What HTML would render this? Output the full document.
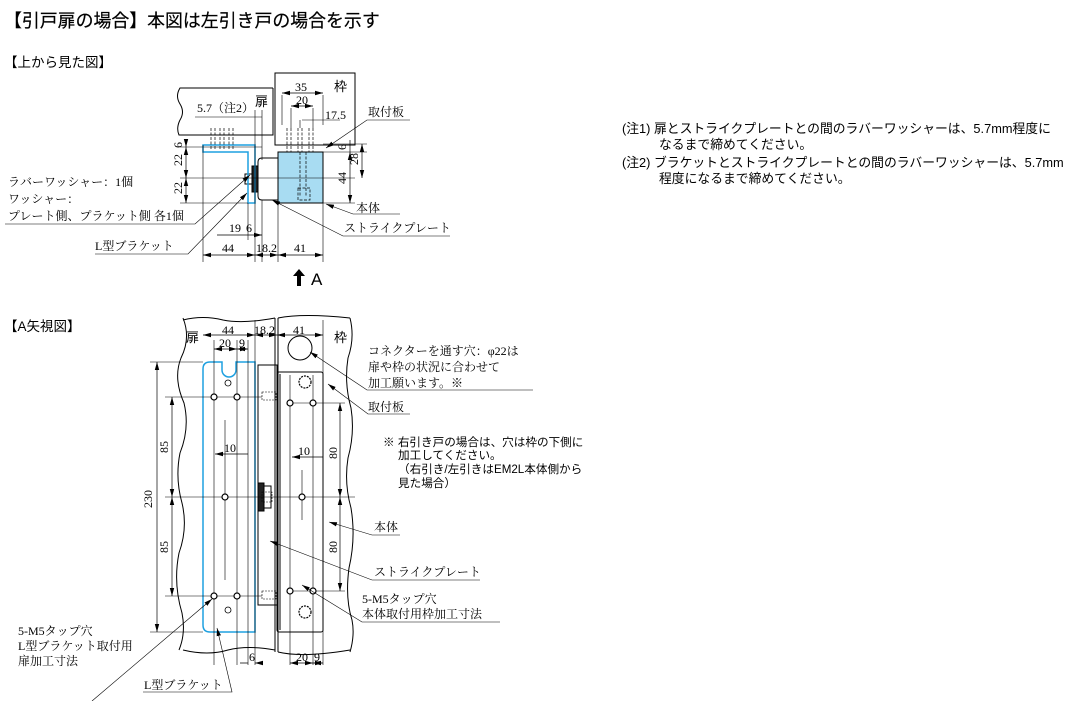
<!DOCTYPE html>
<html><head><meta charset="utf-8"><style>
html,body{margin:0;padding:0;background:#fff;width:1066px;height:701px;overflow:hidden}
svg{display:block}
.g{font-family:"Liberation Sans","Noto Sans CJK JP",sans-serif}
.s{font-family:"Liberation Serif","Noto Serif CJK SC",serif;font-size:12px}
</style></head><body>
<svg width="1066" height="701" viewBox="0 0 1066 701" xmlns="http://www.w3.org/2000/svg">
<defs>
<marker id="a" markerWidth="8" markerHeight="6" refX="8" refY="3" orient="auto-start-reverse" markerUnits="userSpaceOnUse"><path d="M0,0.8 L8,3 L0,5.2z" fill="#000"/></marker>
</defs>
<text x="4" y="27" class="g" font-size="17.9" fill="#000" stroke="#000" stroke-width="0.2">【引戸扉の場合】本図は左引き戸の場合を示す</text>
<text x="4" y="67" class="g" font-size="13.5">【上から見た図】</text>
<text x="4" y="331" class="g" font-size="13.5">【A矢視図】</text>
<g class="g" font-size="12.8" fill="#000">
<text x="622" y="133">(注1) 扉とストライクプレートとの間のラバーワッシャーは、5.7mm程度に</text>
<text x="659" y="149">なるまで締めてください。</text>
<text x="622" y="167">(注2) ブラケットとストライクプレートとの間のラバーワッシャーは、5.7mm</text>
<text x="659" y="183">程度になるまで締めてください。</text>
</g>

<!-- TOP VIEW -->
<g stroke="#000" fill="none" stroke-width="1">
<path d="M273,88 H180 q-5,8 0,16 q5,8 0,16 q-4,8 -1,15 H273 V88"/>
<rect x="275" y="73" width="80" height="72"/>
<path d="M262,158 q-4,0 -4,4 v34 q0,4 4,4 h16 v-42z" fill="#fff"/>
<rect x="252" y="166" width="6" height="26" fill="#222"/>
<rect x="245" y="174" width="7" height="10"/>
</g>
<rect x="278" y="152" width="45" height="51" fill="#a8dcf2" stroke="#000"/>
<path d="M203,145 H255 V203 H248 V152 H203z" fill="none" stroke="#1ea0e0" stroke-width="1.5"/>
<g stroke="#000" stroke-width="0.7" stroke-dasharray="3,1.5" fill="none">
<path d="M211,128 v22 M215,128 v22 M220,128 v22 M224,128 v22 M229,128 v22 M233,128 v22"/>
<path d="M287,128 v24 M291,128 v24 M298,128 v24 M302,128 v24 M309,128 v24 M313,128 v24"/>
<path d="M300,152 v45 M306,152 v45 M298,188 h12 v12 h-12z"/>
</g>
<g stroke="#000" stroke-width="0.6" fill="none">
<path d="M180,147 H262 M180,178 H355 M180,203 H248 M323,152 H367 M323,203 H355 M323,144 H367"/>
<path d="M203,145 V262 M255,145 V262 M262,200 V262 M278,203 V262 M323,203 V262 M248,203 V240"/>
<path d="M282,95 V125 M323,95 V125 M291,108 V128 M313,108 V128 M300,120 V128"/>
<path d="M195,117 H262 M255,110 V145 M262,110 V160"/>
<path d="M302,120 H340"/>
</g>
<g stroke="#000" stroke-width="0.7" fill="none" marker-start="url(#a)" marker-end="url(#a)">
<path d="M282,93 H323"/><path d="M291,106 H313"/>
<path d="M186,147 V178"/><path d="M186,178 V203"/>
<path d="M350,152 V203"/><path d="M362,144 V178"/>
<path d="M203,255 H255"/><path d="M255,255 H278"/><path d="M278,255 H323"/>
</g>
<path d="M217,235 H248 M248,235 H262" stroke="#000" stroke-width="0.7" marker-end="url(#a)"/>
<path d="M350,140 V152 M186,140 V147" stroke="#000" stroke-width="0.7" marker-end="url(#a)"/>
<g stroke="#000" stroke-width="0.6" fill="none">
<path d="M5,224 H195 L250,175" marker-end="url(#a)"/>
<path d="M95,254 H188 L247,193" marker-end="url(#a)"/>
<path d="M410,120 H367 L326,148" marker-end="url(#a)"/>
<path d="M400,214 H353 L326,204" marker-end="url(#a)"/>
<path d="M450,236 H343 L272,200" marker-end="url(#a)"/>
</g>
<g class="s" fill="#000">
<text x="197" y="112">5.7（注2）</text>
<text x="255" y="106" class="g" font-size="13">扉</text>
<text x="334" y="91" class="g" font-size="13">枠</text>
<text x="295" y="91">35</text><text x="296" y="104">20</text><text x="325" y="119">17.5</text>
<text x="182" y="166" transform="rotate(-90 182 166)">22</text>
<text x="182" y="194" transform="rotate(-90 182 194)">22</text>
<text x="182" y="148" transform="rotate(-90 182 148)">6</text>
<text x="346" y="184" transform="rotate(-90 346 184)">44</text>
<text x="358" y="165" transform="rotate(-90 358 165)">28</text>
<text x="346" y="150" transform="rotate(-90 346 150)">6</text>
<text x="229" y="232">19</text><text x="246" y="232">6</text>
<text x="222" y="252">44</text><text x="256" y="252">18.2</text><text x="294" y="252">41</text>
<text x="8" y="186">ラバーワッシャー：1個</text>
<text x="8" y="203">ワッシャー：</text>
<text x="8" y="220">プレート側、プラケット側 各1個</text>
<text x="95" y="250">L型ブラケット</text>
<text x="368" y="116">取付板</text>
<text x="356" y="212">本体</text>
<text x="344" y="232">ストライクプレート</text>
</g>
<path d="M297,286 V276 h-4 l6,-7 l6,7 h-4 v10z" fill="#000"/>
<text x="311" y="285" class="g" font-size="17">A</text>

<!-- A VIEW -->
<g stroke="#000" fill="none" stroke-width="1">
<path d="M183,318 q8,20 -2,40 q-8,20 3,45 q6,25 -4,50 q-5,25 2,50 q6,25 -3,50 q-6,30 3,60 q4,20 -3,37"/>
<path d="M275,318 V652 M278,318 V652"/>
<path d="M350,318 q5,20 -2,40 q-4,25 3,50 q4,25 -3,50 q-4,25 3,50 q5,30 -2,60 q-4,30 3,52 q3,15 -2,32"/>
<path d="M183,320 q20,-5 40,0 q20,4 52,-2 M278,318 q25,-5 72,0"/>
<path d="M183,650 q25,6 45,0 q20,-5 47,0 M278,652 q25,6 72,-2"/>
<rect x="258" y="365" width="19" height="240"/>
<rect x="277" y="372" width="46" height="260" rx="2"/>
<path d="M280,374 V630"/>
<circle cx="300" cy="348" r="12" fill="#fff"/>
<rect x="258" y="483" width="6" height="28" fill="#222"/>
<path d="M264,486 h7 v22 h-7z"/>
</g>
<path d="M210,362 H222 v8 a7,7 0 0 0 14,0 v-8 H255 V632 H210 q-7,0 -7,-7 V369 q0,-7 7,-7z" fill="none" stroke="#1ea0e0" stroke-width="1.5"/>
<g stroke="#000" stroke-width="0.6" fill="none">
<path d="M150,362 H203 M150,632 H203 M165,397 H262 M165,596 H262 M165,497 H355 M290,403 H345 M290,591 H345"/>
<path d="M214,340 V665 M237,340 V665 M225,420 V580 M255,320 V665 M248,340 V665 M290,375 V665 M313,375 V665 M323,320 V665"/>
<path d="M302,470 V520"/>
<path d="M262,392 h14 v8 h-14z M262,591 h14 v8 h-14z M262,492 h10 v10 h-10z" stroke-dasharray="2,1"/>
</g>
<g fill="#fff" stroke="#000" stroke-width="1.2">
<circle cx="214" cy="397" r="3"/><circle cx="237" cy="397" r="3"/>
<circle cx="214" cy="596" r="3"/><circle cx="237" cy="596" r="3"/>
<circle cx="225" cy="497" r="3"/>
<circle cx="290" cy="403" r="3"/><circle cx="313" cy="403" r="3"/>
<circle cx="290" cy="591" r="3"/><circle cx="313" cy="591" r="3"/>
<circle cx="302" cy="497" r="3"/>
<circle cx="228" cy="383" r="3" stroke-width="0.8"/><circle cx="228" cy="610" r="3" stroke-width="0.8"/>
<circle cx="305" cy="382" r="6" stroke-dasharray="2,1"/><circle cx="305" cy="612" r="6" stroke-dasharray="2,1"/>
</g>
<g stroke="#000" stroke-width="0.7" fill="none" marker-start="url(#a)" marker-end="url(#a)">
<path d="M157,362 V632"/><path d="M172,397 V497"/><path d="M172,497 V596"/>
<path d="M340,403 V497"/><path d="M340,497 V591"/>
<path d="M203,335 H255"/><path d="M255,335 H277"/><path d="M277,335 H323"/>
<path d="M214,349 H237"/><path d="M237,349 H248"/>
<path d="M290,663 H313"/><path d="M313,663 H323"/>
</g>
<path d="M215,454 H225 M225,454 H248" stroke="#000" stroke-width="0.7" marker-start="url(#a)"/>
<path d="M292,457 H302 M302,457 H323" stroke="#000" stroke-width="0.7" marker-start="url(#a)"/>
<path d="M240,663 H248 M263,663 H255" stroke="#000" stroke-width="0.7" marker-end="url(#a)"/>
<g stroke="#000" stroke-width="0.6" fill="none">
<path d="M533,390 H367 L310,352" marker-end="url(#a)"/>
<path d="M410,414 H368 L328,384" marker-end="url(#a)"/>
<path d="M400,535 H372 L329,522" marker-end="url(#a)"/>
<path d="M480,580 H372 L270,541" marker-end="url(#a)"/>
<path d="M500,622 H362 L302,585" marker-end="url(#a)"/>
<path d="M92,701 L212,599" marker-end="url(#a)"/>
<path d="M143,692 H232 L217,628" marker-end="url(#a)"/>
</g>
<g class="s" fill="#000">
<text x="186" y="342" class="g" font-size="13">扉</text>
<text x="334" y="342" class="g" font-size="13">枠</text>
<text x="222" y="334">44</text><text x="254" y="334">18.2</text><text x="293" y="334">41</text>
<text x="219" y="347">20</text><text x="239" y="347">9</text>
<text x="224" y="452">10</text><text x="298" y="455">10</text>
<text x="152" y="508" transform="rotate(-90 152 508)">230</text>
<text x="168" y="453" transform="rotate(-90 168 453)">85</text>
<text x="168" y="553" transform="rotate(-90 168 553)">85</text>
<text x="337" y="459" transform="rotate(-90 337 459)">80</text>
<text x="337" y="553" transform="rotate(-90 337 553)">80</text>
<text x="249" y="661">6</text><text x="296" y="661">20</text><text x="314" y="661">9</text>
<text x="368" y="355">コネクターを通す穴：φ22は</text>
<text x="368" y="371">扉や枠の状況に合わせて</text>
<text x="368" y="387">加工願います。※</text>
<text x="368" y="411">取付板</text>
<text x="374" y="531">本体</text>
<text x="374" y="576">ストライクプレート</text>
<text x="362" y="603">5-M5タップ穴</text>
<text x="362" y="618">本体取付用枠加工寸法</text>
<text x="18" y="635">5-M5タップ穴</text>
<text x="18" y="650">L型ブラケット取付用</text>
<text x="18" y="665">扉加工寸法</text>
<text x="144" y="689">L型ブラケット</text>
</g>
<g class="g" font-size="11.6" fill="#000">
<text x="383" y="446">※ 右引き戸の場合は、穴は枠の下側に</text>
<text x="398" y="459">加工してください。</text>
<text x="398" y="473">（右引き/左引きはEM2L本体側から</text>
<text x="398" y="487">見た場合）</text>
</g>
</svg>
</body></html>
